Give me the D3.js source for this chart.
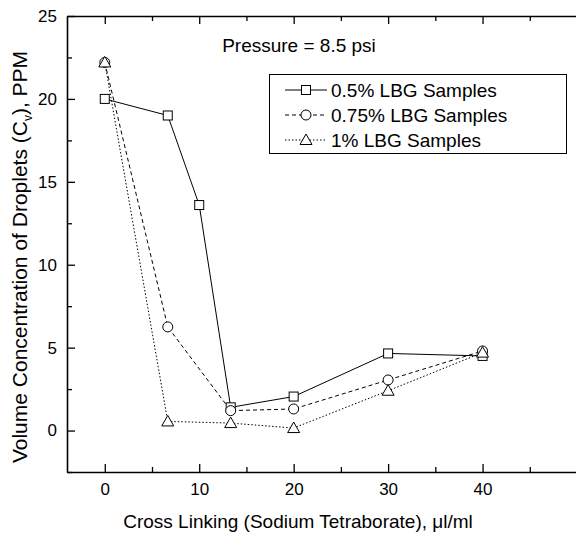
<!DOCTYPE html>
<html>
<head>
<meta charset="utf-8">
<script src="https://cdn.jsdelivr.net/npm/d3@7"></script>
<style>
body { margin: 0; background: #fff; }
text { font-family: "Liberation Sans", Arial, sans-serif; fill: #000; }
.axis path, .axis line { stroke: #000; }
.axis path { stroke-width: 1.6px; }
.axis line { stroke-width: 1.3px; }
.axis text { font-size: 17px; }
</style>
</head>
<body>
<svg width="576" height="536"></svg>
<script>
// data
var xTicks = [0, 10, 20, 30, 40];
var xMinor = [5, 15, 25, 35, 45];
var yTicks = [0, 5, 10, 15, 20, 25];
var yMinor = [-2.5, 2.5, 7.5, 12.5, 17.5, 22.5];

var x05 = [0, 6.67, 10, 13.33, 20, 30, 40];
var lbg05 = [20.0, 19.0, 13.6, 1.4, 2.05, 4.65, 4.5];
var x075 = [0, 6.67, 13.33, 20, 30, 40];
var lbg075 = [22.2, 6.25, 1.2, 1.3, 3.05, 4.8];
var x1 = [0, 6.67, 13.33, 20, 30, 40];
var lbg1 = [22.2, 0.55, 0.45, 0.15, 2.4, 4.7];

var seriesNames = ["0.5% LBG Samples", "0.75% LBG Samples", "1% LBG Samples"];

var svg = d3.select("svg");
var mLeft = 67, mTop = 16, mRight = 577, mBottom = 472;

var x = d3.scaleLinear().domain([-4, 50]).range([mLeft, mRight]);
var y = d3.scaleLinear().domain([-2.5, 25]).range([mBottom, mTop]);

// axes, ticks pointing inward
svg.append("g").attr("class", "axis")
  .attr("transform", "translate(0," + mBottom + ")")
  .call(d3.axisBottom(x).tickValues(xTicks).tickSizeInner(-8).tickSizeOuter(0).tickPadding(11))
  .call(function(g){ g.selectAll("text").attr("dy", "0.71em"); });
svg.append("g").attr("class", "axis")
  .attr("transform", "translate(0," + mBottom + ")")
  .call(d3.axisBottom(x).tickValues(xMinor).tickSizeInner(-5).tickSizeOuter(0).tickFormat(""))
  .call(function(g){ g.select("path").remove(); });

svg.append("g").attr("class", "axis")
  .attr("transform", "translate(0," + mTop + ")")
  .call(d3.axisTop(x).tickValues(xTicks).tickSizeInner(-8).tickSizeOuter(0).tickFormat(""));
svg.append("g").attr("class", "axis")
  .attr("transform", "translate(0," + mTop + ")")
  .call(d3.axisTop(x).tickValues(xMinor).tickSizeInner(-5).tickSizeOuter(0).tickFormat(""))
  .call(function(g){ g.select("path").remove(); });

svg.append("g").attr("class", "axis")
  .attr("transform", "translate(" + mLeft + ",0)")
  .call(d3.axisLeft(y).tickValues(yTicks).tickSizeInner(-8).tickSizeOuter(0).tickPadding(10));
svg.append("g").attr("class", "axis")
  .attr("transform", "translate(" + mLeft + ",0)")
  .call(d3.axisLeft(y).tickValues(yMinor).tickSizeInner(-5).tickSizeOuter(0).tickFormat(""))
  .call(function(g){ g.select("path").remove(); });

// axis titles
svg.append("text")
  .attr("x", 298).attr("y", 528)
  .attr("text-anchor", "middle")
  .style("font-size", "19px")
  .text("Cross Linking (Sodium Tetraborate), \u03bcl/ml");

var yl = svg.append("text")
  .attr("transform", "translate(27," + 257 + ") rotate(-90)")
  .attr("text-anchor", "middle")
  .style("font-size", "21px");
yl.append("tspan").text("Volume Concentration of Droplets (C");
yl.append("tspan").attr("dy", 5).style("font-size", "12px").text("v");
yl.append("tspan").attr("dy", -5).text("), PPM");

svg.append("text")
  .attr("x", 299).attr("y", 52)
  .attr("text-anchor", "middle")
  .style("font-size", "19px")
  .text("Pressure = 8.5 psi");

var series = [
  {xs: x05, ys: lbg05, dash: null, shape: "square"},
  {xs: x075, ys: lbg075, dash: "4,3", shape: "circle"},
  {xs: x1, ys: lbg1, dash: "1.5,2", shape: "triangle"}
];

function marker(g, shape, cx, cy) {
  if (shape === "square") {
    g.append("rect").attr("x", cx - 4.5).attr("y", cy - 4.5).attr("width", 9).attr("height", 9)
      .attr("fill", "#fff").attr("stroke", "#000").attr("stroke-width", 1);
  } else if (shape === "circle") {
    g.append("circle").attr("cx", cx).attr("cy", cy).attr("r", 5)
      .attr("fill", "#fff").attr("stroke", "#000").attr("stroke-width", 1);
  } else {
    g.append("path")
      .attr("d", "M" + cx + "," + (cy - 6) + "L" + (cx + 6) + "," + (cy + 4.5) + "L" + (cx - 6) + "," + (cy + 4.5) + "Z")
      .attr("fill", "#fff").attr("stroke", "#000").attr("stroke-width", 1);
  }
}

var line = d3.line().x(function(d){ return x(d[0]); }).y(function(d){ return y(d[1]); });

// lines first, then markers on top
series.forEach(function(s){
  var pts = s.xs.map(function(v, i){ return [v, s.ys[i]]; });
  svg.append("path").datum(pts)
    .attr("d", line)
    .attr("fill", "none")
    .attr("stroke", "#000")
    .attr("stroke-width", 1)
    .attr("stroke-dasharray", s.dash);
});
series.forEach(function(s){
  var g = svg.append("g");
  s.xs.forEach(function(v, i){ marker(g, s.shape, x(v), y(s.ys[i])); });
});

// legend
var lg = svg.append("g");
lg.append("rect").attr("x", 269.5).attr("y", 74.5).attr("width", 297).attr("height", 79)
  .attr("fill", "#fff").attr("stroke", "#000").attr("stroke-width", 1);
series.forEach(function(s, i){
  var cy = 90 + i * 25;
  lg.append("line").attr("x1", 285).attr("x2", 327).attr("y1", cy).attr("y2", cy)
    .attr("stroke", "#000").attr("stroke-width", 1).attr("stroke-dasharray", s.dash);
  marker(lg, s.shape, 306, cy);
  lg.append("text").attr("x", 331).attr("y", cy).attr("dy", "0.36em")
    .style("font-size", "19px").text(seriesNames[i]);
});
</script>
</body>
</html>
